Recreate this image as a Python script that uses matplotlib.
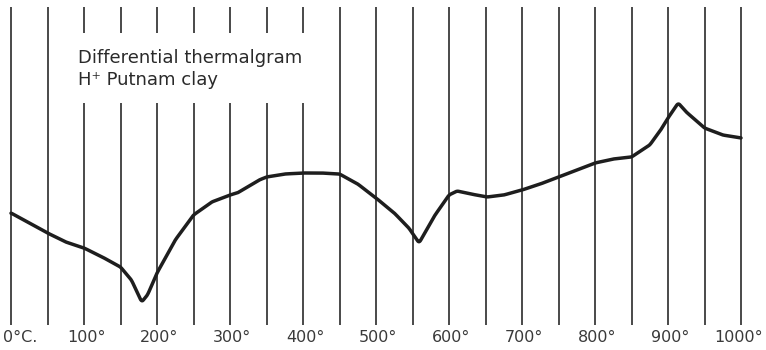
import matplotlib
matplotlib.use("Agg")
import matplotlib.pyplot as plt
import numpy as np

# Temperature (deg C) and deflection (arbitrary units, up = exothermic)
temps = [0, 25, 50, 75, 100, 125, 150, 165, 179, 187, 200, 225, 250, 275, 300, 310,
         340, 350, 375, 400, 425, 450, 475, 500, 525, 545, 559, 580, 600, 611, 630,
         652, 675, 700, 725, 750, 775, 800, 825, 850, 875, 890, 900, 914, 925,
         950, 975, 1000]
deflection = [137, 127, 117, 108, 102, 93, 83, 70, 48, 55, 77, 110, 135, 148, 155, 157,
              170, 173, 176, 177, 177, 176, 166, 152, 137, 122, 107, 134, 155, 159, 156,
              153, 155, 160, 166, 173, 180, 187, 191, 193, 205, 220, 232, 247, 238,
              222, 215, 212]

tick_temps = [0, 100, 200, 300, 400, 500, 600, 700, 800, 900, 1000]
tick_labels = ["0°C.", "100°", "200°", "300°", "400°", "500°", "600°", "700°",
               "800°", "900°", "1000°"]
grid_temps = list(range(0, 1001, 50))
title_lines = ["Differential thermalgram", "H\u207a Putnam clay"]

fig = plt.figure(figsize=(7.66, 3.5), dpi=100)
ax = fig.add_axes([0, 0, 1, 1])
px_per_deg = 0.73
x0_px = 11
ax.set_xlim((0 - x0_px) / px_per_deg, (766 - x0_px) / px_per_deg)
ax.set_ylim(0, 350)
ax.axis("off")

# vertical grid lines, with a gap where the caption sits
for t in grid_temps:
    if 100 <= t <= 400:
        ax.plot([t, t], [317, 343], color="#3a3a3a", lw=1.3, solid_capstyle="butt")
        ax.plot([t, t], [25, 247], color="#3a3a3a", lw=1.3, solid_capstyle="butt")
    else:
        ax.plot([t, t], [25, 343], color="#3a3a3a", lw=1.3, solid_capstyle="butt")

# smooth the hand-traced curve a little
ts = np.array(temps, float)
ds = np.array(deflection, float)
fine_t = np.linspace(0, 1000, 2001)
fine_d = np.interp(fine_t, ts, ds)
k = 9
kern = np.ones(k) / k
pad = np.pad(fine_d, k // 2, mode="edge")
smooth = np.convolve(pad, kern, mode="valid")
ax.plot(fine_t, smooth, color="#1e1e1e", lw=2.5, solid_capstyle="round")

# caption
ax.text((78 - x0_px) / px_per_deg, 292, title_lines[0], fontsize=13,
        color="#2a2a2a", va="center", ha="left")
ax.text((78 - x0_px) / px_per_deg, 270, title_lines[1], fontsize=13,
        color="#2a2a2a", va="center", ha="left")

# temperature labels
last = len(tick_temps) - 1
for i, (t, lab) in enumerate(zip(tick_temps, tick_labels)):
    if i == 0:
        ax.text((3 - x0_px) / px_per_deg, 12, lab, fontsize=11.5, color="#3a3a3a",
                ha="left", va="center")
    elif i == last:
        ax.text((763 - x0_px) / px_per_deg, 12, lab, fontsize=11.5, color="#3a3a3a",
                ha="right", va="center")
    else:
        ax.text(t + 3, 12, lab, fontsize=11.5, color="#3a3a3a",
                ha="center", va="center")

fig.savefig("out.png", dpi=100)
